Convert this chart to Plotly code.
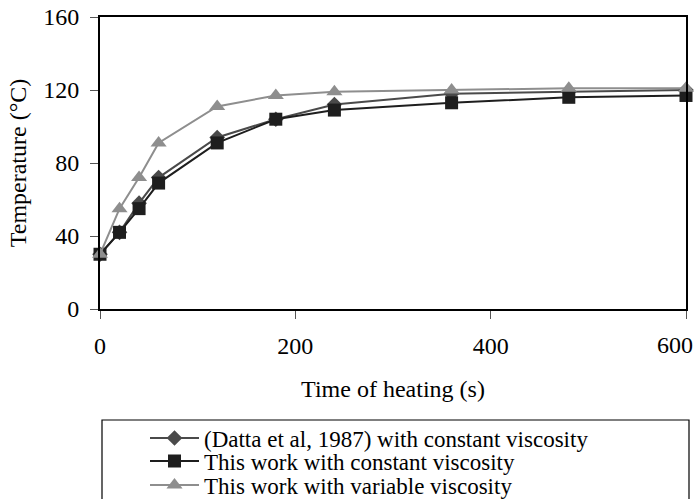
import plotly.graph_objects as go

# Heating time (s) and centre temperature (°C) for the three cases
time_s = [0, 20, 40, 60, 120, 180, 240, 360, 480, 600]
datta_const = [30, 42, 58, 72, 94, 104, 112, 118, 119, 120]
work_const = [30, 42, 55, 69, 91, 104, 109, 113, 116, 117]
work_variable = [30, 55, 72, 91, 111, 117, 119, 120, 121, 121]

series_names = [
    "(Datta et al, 1987) with constant viscosity",
    "This work with constant viscosity",
    "This work with variable viscosity",
]

x_ticks = [0, 200, 400, 600]
x_tick_labels = ["0", "200", "400", "600"]
y_ticks = [0, 40, 80, 120, 160]

FONT = "Liberation Serif"

fig = go.Figure()

styles = [
    dict(color="#4a4a4a", symbol="diamond", size=12),
    dict(color="#1e1e1e", symbol="square", size=13),
    dict(color="#8e8e8e", symbol="triangle-up", size=14),
]
values = [datta_const, work_const, work_variable]
legends = ["legend", "legend2", "legend3"]

for name, ys, st, lg in zip(series_names, values, styles, legends):
    fig.add_trace(go.Scatter(
        x=time_s, y=ys, name=name, mode="lines+markers",
        line=dict(color=st["color"], width=2),
        marker=dict(color=st["color"], symbol=st["symbol"], size=st["size"],
                    line=dict(width=0)),
        legend=lg, cliponaxis=False,
    ))

# plot area: 292 px tall starting 17 px from top, 586 px wide from x=100
def py(px):
    return (309 - px) / 292.0

def px_x(px):
    return (px - 100) / 586.0

legend_common = dict(
    xanchor="left", yanchor="middle",
    bgcolor="rgba(0,0,0,0)", borderwidth=0,
    font=dict(family=FONT, size=23, color="black"),
    itemwidth=49, tracegroupgap=0,
)
row_centres = [438, 461, 485]
fig.update_layout(
    legend=dict(x=px_x(145), y=py(row_centres[0]), **legend_common),
    legend2=dict(x=px_x(145), y=py(row_centres[1]), **legend_common),
    legend3=dict(x=px_x(145), y=py(row_centres[2]), **legend_common),
)

# frame round the legend entries
fig.add_shape(type="rect", xref="paper", yref="paper",
              x0=px_x(102), x1=px_x(689), y0=py(520), y1=py(420),
              line=dict(color="black", width=1.2), fillcolor="rgba(0,0,0,0)")

# the last x label sits flush against the right page edge
axis_labels = x_tick_labels[:-1] + [""]
fig.add_annotation(
    x=x_ticks[-1], xref="x", y=py(345), yref="paper",
    text=x_tick_labels[-1], showarrow=False,
    xanchor="right", yanchor="middle", xshift=9,
    font=dict(family=FONT, size=24, color="black"),
)

fig.update_layout(
    width=696, height=499,
    margin=dict(l=100, r=10, t=17, b=190, autoexpand=False),
    paper_bgcolor="white", plot_bgcolor="white",
    font=dict(family=FONT, size=24, color="black"),
    showlegend=True,
    xaxis=dict(
        range=[0, 600], tickvals=x_ticks, ticktext=axis_labels,
        showgrid=False, zeroline=False, automargin=False,
        showline=True, linecolor="black", linewidth=2, mirror=True,
        ticks="outside", ticklen=8, tickcolor="#555555", tickwidth=1,
        ticklabelstandoff=6, ticklabeloverflow="allow",
        tickfont=dict(family=FONT, size=24, color="black"),
        title=dict(text="Time of heating (s)", standoff=22,
                   font=dict(family=FONT, size=24, color="black")),
    ),
    yaxis=dict(
        range=[0, 160], tickvals=y_ticks, ticktext=[str(v) for v in y_ticks],
        showgrid=False, zeroline=False, automargin=False,
        showline=True, linecolor="black", linewidth=2, mirror=True,
        ticks="outside", ticklen=8, tickcolor="#555555", tickwidth=1,
        ticklabelstandoff=6, ticklabeloverflow="allow",
        tickfont=dict(family=FONT, size=24, color="black"),
        title=dict(text="Temperature (°C)", standoff=10,
                   font=dict(family=FONT, size=24, color="black")),
    ),
)

fig.write_html("out.html")
